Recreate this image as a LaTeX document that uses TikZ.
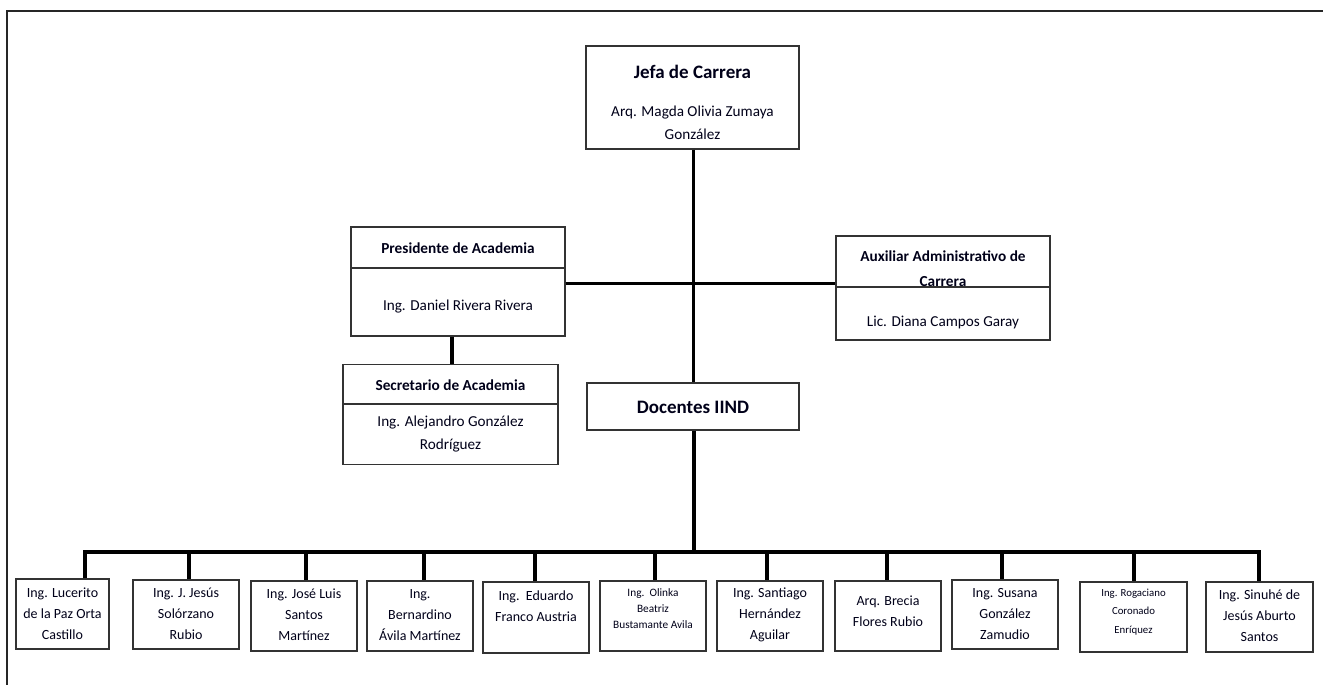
\documentclass[tikz,border=0pt]{standalone}
\usepackage{fontspec}
\setmainfont{Carlito}
\begin{document}
\begin{tikzpicture}[x=1pt,y=-1pt,
  box/.style={draw=black!80,line width=1.3pt,inner sep=0pt,fill=white},
  lbl/.style={inner sep=0pt,align=center,text=black!90!blue},
  conn/.style={line width=3pt,draw=black},
  thick conn/.style={line width=4.5pt,draw=black},
  bus/.style={line width=4pt,draw=black},
  ftitle/.style={font=\bfseries\fontsize{19}{23}\selectfont},
  fhead/.style={font=\bfseries\fontsize{15.3}{25}\selectfont},
  fname/.style={font=\fontsize{15.2}{23.5}\selectfont},
  fsmall/.style={font=\fontsize{14}{21}\selectfont},
  ftiny/.style={font=\fontsize{11.3}{16}\selectfont},
  fmini/.style={font=\fontsize{10.8}{18.5}\selectfont}]
\useasboundingbox (0,0) rectangle (1323,685);
% frame (top and left edges visible)
\draw[line width=2pt,black!85] (7,685) -- (7,11) -- (1323,11);

% top boxes
\node[box,minimum width=213pt,minimum height=103pt] (jefa) at (692.5,97.5) {};
\node[box,minimum width=214pt,minimum height=109pt] (pres) at (458,281.5) {};
\node[box,minimum width=215pt,minimum height=100pt] (sec) at (450.5,414.5) {};
\node[box,minimum width=214pt,minimum height=104pt] (aux) at (943,288) {};
\node[box,minimum width=212pt,minimum height=47pt] (doc) at (693,406.5) {};

% dividers
\draw[line width=1.3pt,black!80] (pres.west |- 0,268) -- (pres.east |- 0,268);
\draw[line width=1.3pt,black!80] (sec.west |- 0,404) -- (sec.east |- 0,404);
\draw[line width=1.3pt,black!80] (aux.west |- 0,287) -- (aux.east |- 0,287);

% labels
\node[lbl,ftitle] (jefaT) at (692.5,72) {Jefa de Carrera};
\node[lbl,fname] (jefaN) at (692.5,123) {Arq. Magda Olivia Zumaya\\González};
\node[lbl,fhead] (presT) at (458,248) {Presidente de Academia};
\node[lbl,fname] (presN) at (458,307) {Ing. Daniel Rivera Rivera};
\node[lbl,fhead] (secT) at (450.5,385) {Secretario de Academia};
\node[lbl,fname] (secN) at (450.5,434) {Ing. Alejandro González\\Rodríguez};
\node[lbl,fhead] (auxT) at (943,269) {Auxiliar Administrativo de\\Carrera};
\node[lbl,fname] (auxN) at (943,322) {Lic. Diana Campos Garay};
\node[lbl,ftitle] (docT) at (693,407) {Docentes IIND};

% connectors top
\draw[conn] (jefa.south -| 693,0) -- (doc.north -| 693,0);
\draw[conn] (pres.east |- 0,283) -- (aux.west |- 0,283);
\draw[thick conn] (pres.south -| 452,0) -- (sec.north -| 452,0);

% bottom boxes
\node[box,minimum width=93pt,minimum height=70pt] (d1) at (62.5,614) {};
\node[box,minimum width=106pt,minimum height=69pt] (d2) at (186,614.5) {};
\node[box,minimum width=106pt,minimum height=70pt] (d3) at (304,616) {};
\node[box,minimum width=106pt,minimum height=70pt] (d4) at (420,616) {};
\node[box,minimum width=106pt,minimum height=71pt] (d5) at (536,617.5) {};
\node[box,minimum width=106pt,minimum height=70pt] (d6) at (653,616) {};
\node[box,minimum width=106pt,minimum height=70pt] (d7) at (770,616) {};
\node[box,minimum width=106pt,minimum height=70pt] (d8) at (888,616) {};
\node[box,minimum width=106pt,minimum height=69pt] (d9) at (1005,614.5) {};
\node[box,minimum width=107pt,minimum height=70pt] (d10) at (1133.5,617) {};
\node[box,minimum width=107pt,minimum height=70pt] (d11) at (1259.5,617) {};

\node[lbl,fsmall] (t1) at (62.5,614) {Ing. Lucerito\\de la Paz Orta\\Castillo};
\node[lbl,fsmall] (t2) at (186,614) {Ing. J. Jesús\\Solórzano\\Rubio};
\node[lbl,fsmall] (t3) at (304,615) {Ing. José Luis\\Santos\\Martínez};
\node[lbl,fsmall] (t4) at (420,615) {Ing.\\Bernardino\\Ávila Martínez};
\node[lbl,fsmall] (t5) at (536,606) {Ing.\ \ Eduardo\\Franco Austria};
\node[lbl,ftiny] (t6) at (653,609) {Ing.\ \ Olinka\\Beatriz\\Bustamante Avila};
\node[lbl,fsmall] (t7) at (770,615) {Ing. Santiago\\Hernández\\Aguilar};
\node[lbl,fsmall] (t8) at (888,611) {Arq. Brecia\\Flores Rubio};
\node[lbl,fsmall] (t9) at (1005,614) {Ing. Susana\\González\\Zamudio};
\node[lbl,fmini] (t10) at (1133.5,612) {Ing. Rogaciano\\Coronado\\Enríquez};
\node[lbl,fsmall] (t11) at (1259.5,616) {Ing. Sinuhé de\\Jesús Aburto\\Santos};

% bus
\coordinate (busL) at (85,552);
\coordinate (busR) at (1259,552);
\draw[bus] (doc.south -| 694,0) -- (694,552);
\draw[bus,line join=miter] (d1.north -| busL) -- (busL) -- (busR) -- (d11.north -| busR);
\foreach \n/\x in {d2/189,d3/306,d4/424,d5/535,d6/655,d7/767,d8/887,d9/1002,d10/1134}
  \draw[bus] (\x,552) -- (\n.north -| \x,0);
\end{tikzpicture}
\end{document}
